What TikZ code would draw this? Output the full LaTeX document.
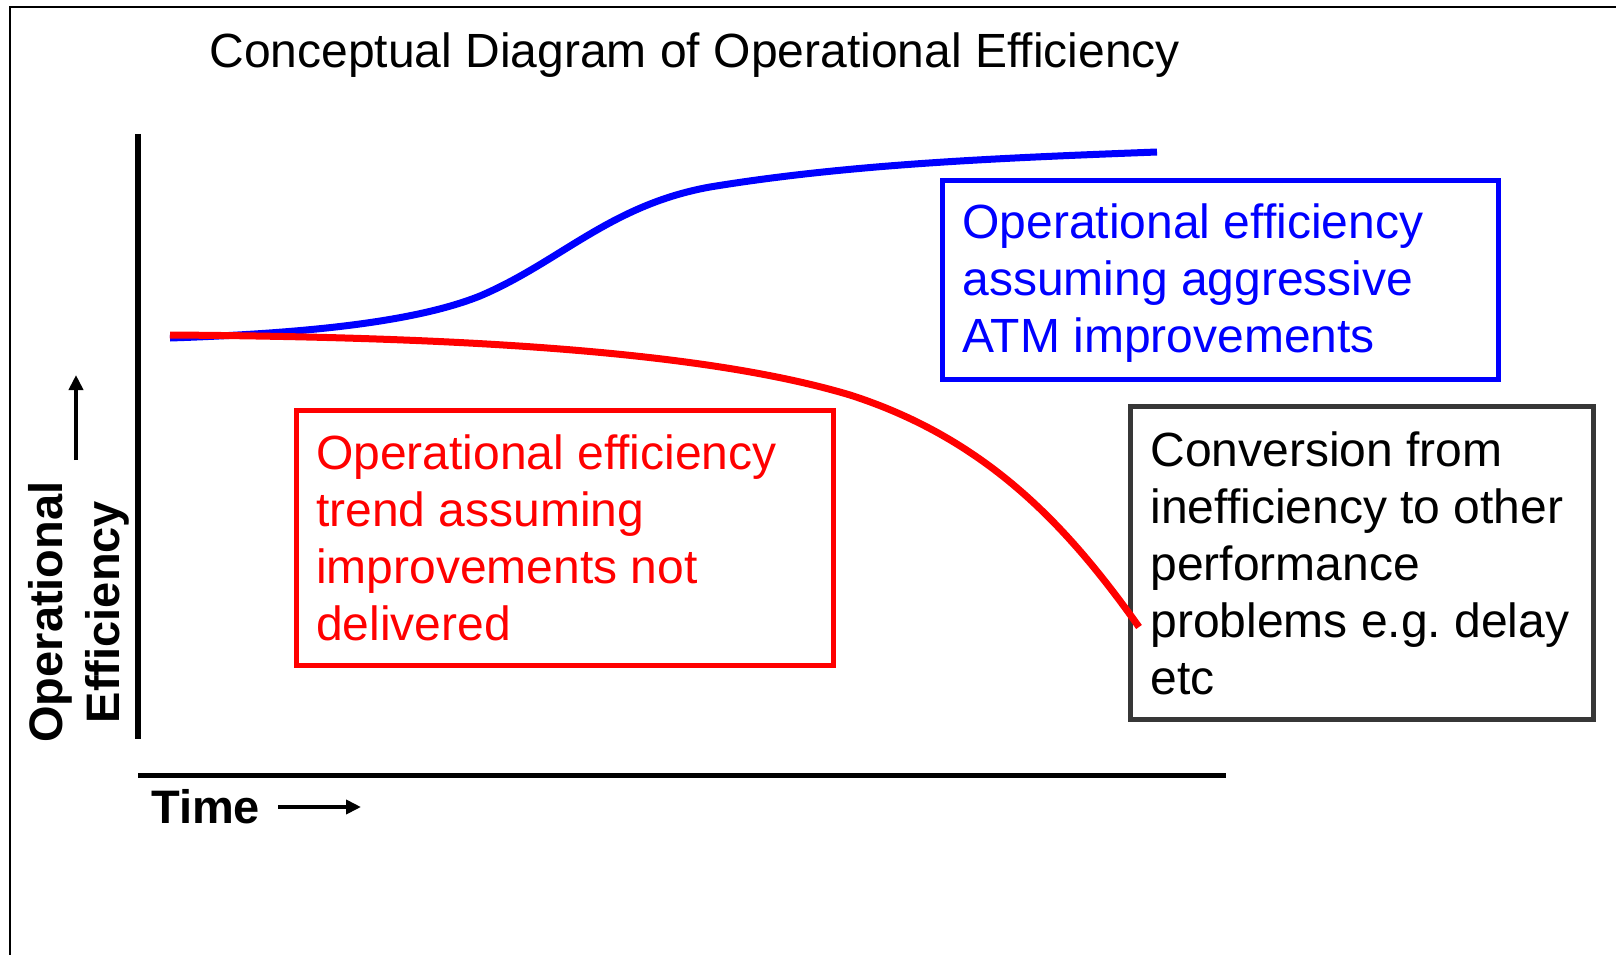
\documentclass[tikz,border=0pt]{standalone}
\usepackage{fontspec}
\setmainfont{Liberation Sans}
\usetikzlibrary{arrows.meta}
\definecolor{boxgray}{RGB}{55,55,55}

\begin{document}
\begin{tikzpicture}[x=1pt,y=-1pt,
    txt/.style={font=\fontsize{48}{57}\selectfont\frenchspacing},
    lbl/.style={font=\fontsize{47}{57}\selectfont\bfseries},
    note/.style={txt,draw,line width=5pt,inner xsep=20pt,inner ysep=0pt,align=flush left,anchor=north west},
    curve/.style={line width=7pt},
    axis/.style={line width=6pt},
    pointer/.style={line width=4pt,-{Triangle[length=15pt,width=14pt]}}]
  \useasboundingbox (0,0) rectangle (1616,955);
  \draw[line width=2pt] (10,955) -- (10,7) -- (1616,7);
  \draw
    (206,68) node[txt,anchor=base west] (title){Conceptual Diagram of Operational Efficiency}
    (940,178) node[note,blue,minimum width=556pt,minimum height=199pt,text width=516pt,text height=57.5pt,text depth=141.5pt] (aggr){Operational efficiency\\assuming aggressive\\ATM improvements}
    (293.5,407.5) node[note,red,minimum width=537pt,minimum height=255pt,text width=497pt] (trend){Operational efficiency\\trend assuming\\improvements not\\delivered}
    (1128,404) node[note,draw=boxgray,minimum width=463pt,minimum height=313pt,text width=423pt] (conv){Conversion from\\inefficiency to other\\performance\\problems e.g. delay\\etc}
    (79,612) node[lbl,rotate=90,align=center,inner sep=0pt] (yname){Operational\\Efficiency}
    (151,823) node[lbl,anchor=base west,inner sep=0pt] (xname){Time};
  \coordinate (ytop) at (138,134);
  \coordinate (ybot) at (138,739);
  \coordinate (xleft) at (138,775);
  \coordinate (xright) at (1226,775);
  \draw[axis] (ytop) -- (ybot);
  \draw[axis,line width=5pt] (xleft) -- (xright);
  \draw[pointer] (76,460) -- (76,375);
  \draw[pointer] (278,807) -- (361,807);
  \begin{scope}[curve]
    \draw[blue] (170,338) .. controls (320,333) and (420,320) .. (480,296)
      .. controls (560,262) and (610,205) .. (710,187)
      .. controls (850,164) and (1000,158) .. (1157,152);
    \draw[red] (170,335) .. controls (450,337) and (700,350) .. (850,395)
      .. controls (990,440) and (1070,530) .. (1139,627);
  \end{scope}
\end{tikzpicture}
\end{document}
